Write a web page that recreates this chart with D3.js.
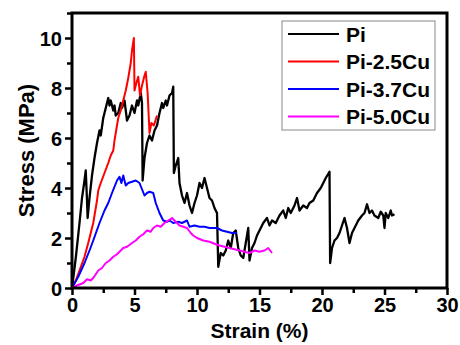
<!DOCTYPE html>
<html>
<head>
<meta charset="utf-8">
<script src="https://cdnjs.cloudflare.com/ajax/libs/d3/7.8.5/d3.min.js"></script>
<style>
  body { margin: 0; background: #fff; }
  svg text { font-family: "Liberation Sans", Arial, sans-serif; font-weight: bold; }
</style>
</head>
<body>
<svg width="460" height="345"></svg>
<script>
// series names and colours (legend order)
var seriesNames = ["Pi", "Pi-2.5Cu", "Pi-3.7Cu", "Pi-5.0Cu"];
var seriesColors = ["#000000", "#ff0000", "#0000ff", "#ff00ff"];

// [strain %, stress MPa]
var pi = [[0,0],[0.3,1.2],[0.6,2.6],[0.8,3.6],[1.0,4.3],[1.1,4.7],[1.2,3.5],[1.25,2.8],[1.4,3.6],[1.6,4.5],
  [1.8,5.2],[2.0,5.8],[2.2,6.3],[2.3,6.1],[2.5,6.8],[2.7,7.2],[2.9,7.6],[3.0,7.3],[3.1,7.5],[3.3,7.1],
  [3.4,7.3],[3.5,6.9],[3.7,7.0],[3.9,7.4],[4.0,7.2],[4.2,7.5],[4.4,6.7],[4.6,6.9],[4.8,7.3],[5.0,7.0],
  [5.2,7.5],[5.3,7.3],[5.5,7.8],[5.6,7.4],[5.65,4.3],[5.8,5.2],[6.0,5.8],[6.2,6.1],[6.4,5.9],[6.6,6.3],
  [6.8,6.5],[7.0,7.0],[7.2,7.4],[7.3,7.2],[7.5,7.5],[7.6,7.3],[7.8,7.7],[8.0,7.8],[8.1,8.05],[8.15,4.6],
  [8.3,4.9],[8.5,5.2],[8.6,4.2],[8.8,3.7],[9.0,3.4],[9.2,3.8],[9.4,3.3],[9.6,3.0],[9.8,3.4],[10.0,3.7],
  [10.2,4.2],[10.4,4.0],[10.6,4.4],[10.8,4.0],[11.0,3.6],[11.2,3.5],[11.4,3.2],[11.6,3.0],[11.7,0.85],[11.9,1.4],
  [12.1,1.3],[12.3,1.5],[12.5,1.9],[12.7,1.6],[12.9,2.2],[13.1,2.3],[13.3,1.6],[13.5,1.3],[13.7,1.2],[13.9,1.8],
  [14.1,2.4],[14.2,1.1],[14.4,1.6],[14.6,1.8],[14.8,2.1],[15.0,2.3],[15.3,2.6],[15.6,2.8],[15.8,2.5],[16.0,2.7],
  [16.3,2.6],[16.6,2.9],[16.9,3.1],[17.1,2.8],[17.3,3.2],[17.5,3.0],[17.8,3.3],[18.0,3.6],[18.2,3.1],[18.5,3.3],
  [18.8,3.2],[19.0,3.4],[19.3,3.5],[19.6,3.8],[19.9,4.0],[20.1,4.2],[20.3,4.4],[20.6,4.65],[20.65,1.0],[20.8,1.6],
  [21.0,1.9],[21.2,2.0],[21.4,2.2],[21.6,2.5],[21.8,2.8],[22.0,2.4],[22.2,1.8],[22.4,2.2],[22.6,2.4],[22.9,2.7],
  [23.2,2.9],[23.4,3.0],[23.6,3.35],[23.8,3.0],[24.0,3.1],[24.2,2.9],[24.5,2.8],[24.7,3.05],[24.9,2.9],[25.0,2.4],
  [25.1,3.0],[25.3,2.8],[25.5,3.1],[25.6,2.9],[25.8,2.95]];

var pi25 = [[0,0],[0.3,0.3],[0.6,0.7],[1.0,1.25],[1.3,1.8],[1.7,2.6],[2.0,3.5],[2.1,3.9],[2.3,4.2],[2.6,4.6],
  [2.9,5.0],[3.1,5.3],[3.3,5.5],[3.4,5.9],[3.5,6.2],[3.7,6.8],[3.9,7.1],[4.1,7.5],[4.3,7.9],[4.5,8.4],
  [4.7,9.0],[4.8,9.5],[4.95,10.0],[5.0,7.9],[5.15,8.2],[5.3,8.45],[5.44,7.7],[5.6,8.1],[5.8,8.5],[5.9,8.65],
  [6.05,7.8],[6.2,6.2],[6.35,6.6],[6.55,6.5],[6.8,6.9]];

var pi37 = [[0,0],[0.5,0.45],[1.0,1.0],[1.4,1.5],[1.7,1.9],[2.2,2.6],[2.6,3.1],[2.9,3.4],[3.2,3.8],[3.4,4.05],
  [3.6,4.3],[3.8,4.45],[3.95,4.2],[4.1,4.5],[4.3,4.1],[4.5,4.2],[4.8,4.25],[5.1,4.3],[5.4,4.2],[5.6,3.95],
  [5.8,3.7],[6.0,3.8],[6.2,3.85],[6.5,3.8],[6.7,3.4],[7.0,3.0],[7.3,2.7],[7.6,2.65],[7.8,2.7],[8.1,2.6],
  [8.5,2.65],[8.8,2.6],[9.2,2.7],[9.4,2.45],[9.8,2.5],[10.2,2.45],[10.6,2.45],[11.0,2.4],[11.6,2.4],[12.0,2.3],
  [12.4,2.25],[12.8,2.2],[13.2,2.2]];

var pi50 = [[0,0],[0.4,0.1],[0.9,0.2],[1.2,0.35],[1.5,0.3],[1.7,0.4],[2.1,0.7],[2.4,0.8],[2.7,1.0],[3.0,1.1],
  [3.3,1.25],[3.6,1.35],[3.8,1.45],[4.1,1.6],[4.4,1.65],[4.8,1.8],[5.1,1.9],[5.4,2.05],[5.7,2.15],[6.0,2.3],
  [6.3,2.25],[6.5,2.4],[6.8,2.5],[7.1,2.45],[7.4,2.6],[7.7,2.7],[8.0,2.8],[8.3,2.65],[8.6,2.5],[8.9,2.45],
  [9.2,2.4],[9.5,2.2],[9.7,2.1],[10.0,2.0],[10.5,1.9],[11.0,1.85],[11.5,1.75],[11.8,1.7],[12.2,1.65],[12.6,1.6],
  [13.0,1.55],[13.4,1.5],[13.8,1.45],[14.2,1.4],[14.6,1.5],[15.0,1.45],[15.4,1.5],[15.7,1.6],[16.0,1.4]];

var xTicks = [0, 5, 10, 15, 20, 25, 30];
var yTicks = [0, 2, 4, 6, 8, 10];

var svg = d3.select("svg"),
    margin = {top: 13, right: 13, bottom: 57, left: 72},
    width = +svg.attr("width") - margin.left - margin.right,
    height = +svg.attr("height") - margin.top - margin.bottom;

var x = d3.scaleLinear().domain([0, 30]).range([0, width]),
    y = d3.scaleLinear().domain([0, 11]).range([height, 0]);

var g = svg.append("g")
    .attr("transform", "translate(" + margin.left + "," + margin.top + ")");

var line = d3.line()
    .x(function(d) { return x(d[0]); })
    .y(function(d) { return y(d[1]); });

// curves, black first so the others sit on top
var allSeries = [pi, pi25, pi37, pi50];
allSeries.forEach(function(s, i) {
    g.append("path")
        .datum(s)
        .attr("fill", "none")
        .attr("stroke", seriesColors[i])
        .attr("stroke-width", i == 0 ? 2.3 : 2)
        .attr("stroke-linejoin", "round")
        .attr("d", line);
});

// minor ticks
var xMinor = d3.axisBottom(x).tickValues(d3.range(2.5, 30, 5)).tickSize(5).tickFormat("");
var yMinor = d3.axisLeft(y).tickValues([1, 3, 5, 7, 9, 11]).tickSize(5).tickFormat("");

g.append("g").attr("class", "minor").attr("transform", "translate(0," + height + ")").call(xMinor);
g.append("g").attr("class", "minor").call(yMinor);

var xAxis = g.append("g")
    .attr("transform", "translate(0," + height + ")")
    .call(d3.axisBottom(x).tickValues(xTicks).tickSize(7).tickPadding(3).tickFormat(d3.format("d")));

var yAxis = g.append("g")
    .call(d3.axisLeft(y).tickValues(yTicks).tickSize(7).tickPadding(3).tickFormat(d3.format("d")));

g.selectAll(".domain").remove();
g.selectAll(".tick line").attr("stroke", "#000").attr("stroke-width", 2.5);
xAxis.selectAll("text").attr("font-size", 20).attr("fill", "#000");
yAxis.selectAll("text").attr("font-size", 20).attr("fill", "#000").attr("dy", "0.36em");

// frame
g.append("rect")
    .attr("x", 0).attr("y", 0)
    .attr("width", width).attr("height", height)
    .attr("fill", "none")
    .attr("stroke", "#000")
    .attr("stroke-width", 3);

// axis titles
svg.append("text")
    .attr("x", margin.left + width / 2)
    .attr("y", 338)
    .attr("text-anchor", "middle")
    .attr("font-size", 21)
    .text("Strain (%)");

svg.append("text")
    .attr("transform", "translate(34," + (margin.top + height / 2) + ") rotate(-90)")
    .attr("text-anchor", "middle")
    .attr("font-size", 22)
    .text("Stress (MPa)");

// legend
var legend = svg.append("g").attr("transform", "translate(282,21)");
legend.append("rect")
    .attr("width", 153).attr("height", 109)
    .attr("fill", "#fff")
    .attr("stroke", "#888")
    .attr("stroke-width", 1);

seriesNames.forEach(function(name, i) {
    var row = legend.append("g").attr("transform", "translate(0," + (13 + i * 27.5) + ")");
    row.append("line")
        .attr("x1", 6).attr("x2", 57)
        .attr("stroke", seriesColors[i])
        .attr("stroke-width", 2);
    row.append("text")
        .attr("x", 64)
        .attr("dy", "0.36em")
        .attr("font-size", 21)
        .text(name);
});
</script>
</body>
</html>
